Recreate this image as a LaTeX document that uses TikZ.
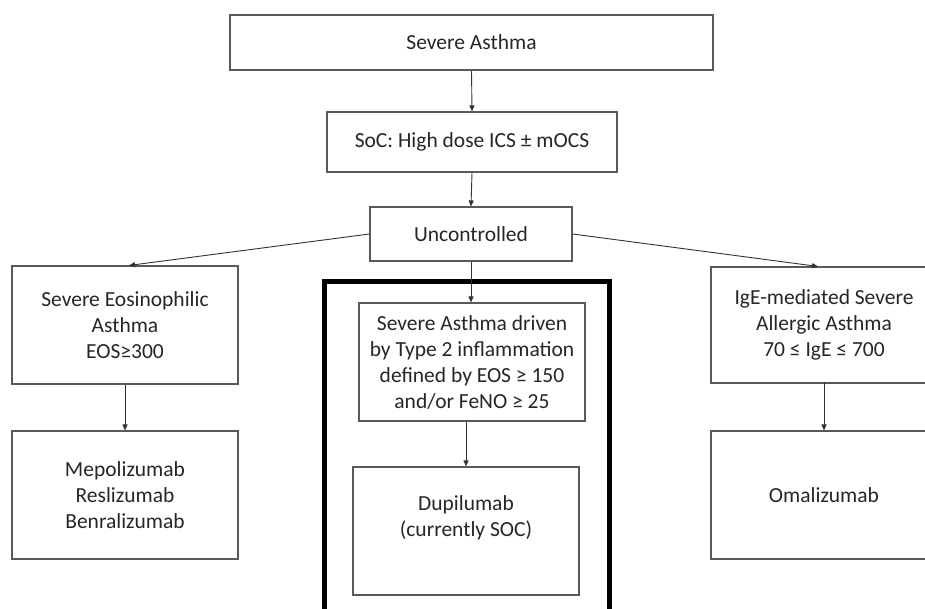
\documentclass[tikz,border=0pt]{standalone}
\usepackage{fontspec}
\setmainfont{Carlito}
\usetikzlibrary{arrows.meta}
\begin{document}
\begin{tikzpicture}[x=1pt,y=-1pt,
  box/.style={draw=black!65, line width=1.1pt, align=center, text=black!85,
    font=\fontsize{21.5}{26}\selectfont, inner sep=0pt},
  lbl/.style={align=center, text=black!85, font=\fontsize{21.5}{26}\selectfont, inner sep=0pt},
  arr/.style={draw=black!80, line width=0.9pt, -{Triangle[length=6pt,width=5pt]}},
  frame/.style={draw=black, line width=5pt}
]
\useasboundingbox (0,0) rectangle (925,609);
\clip (0,0) rectangle (925,609);
\fill[white] (0,0) rectangle (925,609);

\node[box, minimum width=483pt, minimum height=55pt] (sa) at (471.5,42.5) {Severe Asthma};
\node[box, minimum width=290pt, minimum height=60pt] (soc) at (472,142) {SoC: High dose ICS ± mOCS};
\node[box, minimum width=202pt, minimum height=54pt] (unc) at (471,234) {Uncontrolled};

\node[box, minimum width=226pt, minimum height=118pt] (seo) at (125,325) {Severe Eosinophilic\\Asthma\\EOS≥300};
\node[box, minimum width=226pt, minimum height=128pt] (mep) at (125,495) {Mepolizumab\\Reslizumab\\Benralizumab};

\node[box, minimum width=226pt, minimum height=118pt] (t2) at (472,362) {Severe Asthma driven\\by Type 2 inflammation\\defined by EOS ≥ 150\\and/or FeNO ≥ 25};
\node[box, minimum width=226pt, minimum height=128pt] (dup) at (466,531) {};
\node[lbl] (duptxt) at (466,518) {Dupilumab\\(currently SOC)};

\node[box, minimum width=226pt, minimum height=116pt] (ige) at (824,325) {IgE-mediated Severe\\Allergic Asthma\\70 ≤ IgE ≤ 700};
\node[box, minimum width=226pt, minimum height=128pt] (oma) at (824,495) {Omalizumab};

\draw[frame] (324,630) -- (324,282) -- (609,282) -- (609,630);

\draw[arr] (sa.south) -- (soc.north);
\draw[arr] (soc.south) -- (unc.north);
\draw[arr] (unc.south) -- (unc.south |- t2.north);
\draw[arr] (dup.north |- t2.south) -- (dup.north);
\draw[arr] (unc.west) -- ([xshift=4pt]seo.north);
\draw[arr] (unc.east) -- ([xshift=-6pt]ige.north);
\draw[arr] (seo.south) -- (mep.north);
\draw[arr] ([yshift=2pt]ige.south) -- (oma.north);
\end{tikzpicture}
\end{document}
